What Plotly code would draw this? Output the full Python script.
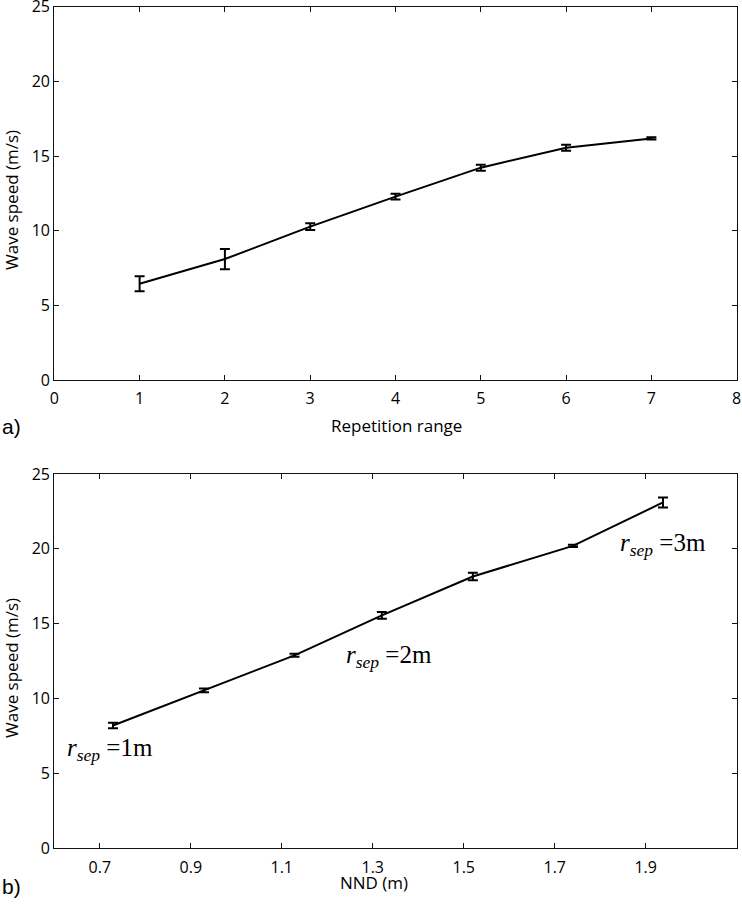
import plotly.graph_objects as go

# ---- data: panel a ----
rep_range = [1, 2, 3, 4, 5, 6, 7]
speed_a = [6.45, 8.1, 10.27, 12.28, 14.22, 15.56, 16.18]
err_a = [0.5, 0.68, 0.22, 0.2, 0.2, 0.2, 0.08]

# ---- data: panel b ----
nnd = [0.729, 0.929, 1.128, 1.32, 1.52, 1.74, 1.938]
speed_b = [8.2, 10.55, 12.89, 15.56, 18.15, 20.2, 23.1]
err_b = [0.18, 0.12, 0.1, 0.22, 0.25, 0.08, 0.33]

# annotations (text + anchor in data coords of panel b)
rsep_labels = ["=1m", "=2m", "=3m"]
rsep_x = [0.623, 1.237, 1.839]
rsep_y = [6.6, 12.8, 20.3]

xticks_a = [0, 1, 2, 3, 4, 5, 6, 7, 8]
xticks_b = [0.7, 0.9, 1.1, 1.3, 1.5, 1.7, 1.9]
xticklabels_b = ["0.7", "0.9", "1.1", "1.3", "1.5", "1.7", "1.9"]
yticks = [0, 5, 10, 15, 20, 25]

W, H = 742, 905
SANS = "Open Sans"
SERIF = "Liberation Serif"

fig = go.Figure()
fig.add_trace(go.Scatter(
    x=rep_range, y=speed_a, mode="lines",
    line=dict(color="black", width=2),
    error_y=dict(type="data", array=err_a, visible=True, color="black", thickness=2, width=5),
    xaxis="x", yaxis="y", showlegend=False))
fig.add_trace(go.Scatter(
    x=nnd, y=speed_b, mode="lines",
    line=dict(color="black", width=2),
    error_y=dict(type="data", array=err_b, visible=True, color="black", thickness=2, width=5),
    xaxis="x2", yaxis="y2", showlegend=False))

xdom = [54.3 / W, 736.7 / W]
axis_common = dict(showline=True, linecolor="#111", linewidth=1.3, mirror="ticks",
                   ticks="inside", ticklen=5, tickwidth=1, tickcolor="#111",
                   showgrid=False, zeroline=False, ticklabeloverflow="allow",
                   tickfont=dict(family=SANS, size=16, color="black"),
                   automargin=False)
xaxis_extra = dict(ticklabelstandoff=4)

fig.update_layout(
    width=W, height=H,
    margin=dict(l=0, r=0, t=0, b=0),
    paper_bgcolor="white", plot_bgcolor="white",
    xaxis=dict(domain=xdom, range=[0, 8], tickvals=xticks_a, anchor="y", **axis_common, **xaxis_extra),
    yaxis=dict(domain=[1 - 380 / H, 1 - 6.7 / H], range=[0, 25], tickvals=yticks, anchor="x", **axis_common),
    xaxis2=dict(domain=xdom, range=[0.6, 2.1], tickvals=xticks_b, ticktext=xticklabels_b, anchor="y2",
                **axis_common, **xaxis_extra),
    yaxis2=dict(domain=[1 - 848.3 / H, 1 - 474 / H], range=[0, 25], tickvals=yticks, anchor="x2", **axis_common),
)

ann = []
title_font = dict(family=SANS, size=17, color="black")
ann.append(dict(text="Repetition range", x=396 / W, y=1 - 425 / H, xref="paper", yref="paper",
                showarrow=False, font=title_font, xanchor="center", yanchor="middle"))
ann.append(dict(text="NND (m)", x=374 / W, y=1 - 882 / H, xref="paper", yref="paper",
                showarrow=False, font=title_font, xanchor="center", yanchor="middle"))
for yc in [200, 668]:
    ann.append(dict(text="Wave speed (m/s)", x=11 / W, y=1 - yc / H, xref="paper", yref="paper",
                    showarrow=False, font=title_font, textangle=-90, xanchor="center", yanchor="middle"))
for lab, yc in [("a)", 426), ("b)", 886)]:
    ann.append(dict(text=lab, x=0, y=1 - yc / H, xref="paper", yref="paper",
                    showarrow=False, font=dict(family="Liberation Sans", size=21, color="black"),
                    xanchor="left", yanchor="middle"))
for lab, xv, yv in zip(rsep_labels, rsep_x, rsep_y):
    ann.append(dict(text="<i>r</i><sub><i>sep</i></sub> " + lab,
                    x=xv, y=yv, xref="x2", yref="y2",
                    showarrow=False, font=dict(family=SERIF, size=25, color="black"),
                    xanchor="left", yanchor="middle"))
fig.update_layout(annotations=ann)

fig.write_html("out.html", config={"displayModeBar": False},
               post_script="document.body.style.margin='0';")
